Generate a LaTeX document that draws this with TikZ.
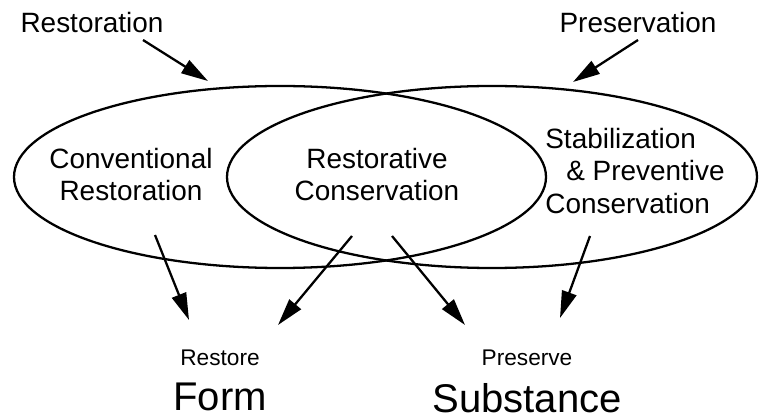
\documentclass[tikz,border=0pt]{standalone}
\usepackage{fontspec}
\setmainfont{Liberation Sans}
\usetikzlibrary{arrows.meta,positioning}
\tikzset{zone/.style={line width=1.3pt}}
\tikzset{lbl/.style={inner sep=0pt,font=\fontsize{15.9}{18.6}\selectfont,align=center}}
\tikzset{smalllbl/.style={inner sep=0pt,font=\fontsize{12.9}{15}\selectfont}}
\tikzset{biglbl/.style={inner sep=0pt,font=\fontsize{22.8}{27}\selectfont}}
\tikzset{arr/.style={line width=1.3pt,-{Triangle[length=0.54cm,width=0.3cm]}}}

\begin{document}
\begin{tikzpicture}[x=0.02cm,y=0.02cm]
\useasboundingbox (0,0) rectangle (759,419);

% the two overlapping fields
\draw[zone] (280,242) ellipse [x radius=266, y radius=91];
\draw[zone] (492,242) ellipse [x radius=265, y radius=91];

\node[lbl] (restlbl) at (92,396) {Restoration};
\node[lbl] (preslbl) at (638,396) {Preservation};

\node[lbl] (conv) at (131,244.5) {Conventional\\Restoration};
\node[lbl] (restcons) at (377,244.5) {Restorative\\Conservation};
\node[lbl,align=left,anchor=west] (stab) at (545,248) {Stabilization\\\hspace*{0.75em}\& Preventive\\Conservation};

\node[smalllbl] (restore) at (220,61.5) {Restore};
\node[biglbl, below=0.34cm of restore] (form) {Form};
\node[smalllbl] (preserve) at (527,61.5) {Preserve};
\node[biglbl, below=0.34cm of preserve] (subst) {Substance};

% arrow ends
\coordinate (restlbl-out) at (143,379);
\coordinate (restfield-in) at (208,338);
\coordinate (preslbl-out) at (638,379);
\coordinate (presfield-in) at (573,337);
\coordinate (conv-out) at (155,184);
\coordinate (restcons-outl) at (352,183);
\coordinate (restcons-outr) at (392,183);
\coordinate (stab-out) at (590,183);
\coordinate (form-inl) at (189,99);
\coordinate (form-inr) at (278,94);
\coordinate (subst-inl) at (465,94);
\coordinate (subst-inr) at (560,101);

\draw[arr] (restlbl-out) -- (restfield-in);
\draw[arr] (preslbl-out) -- (presfield-in);
\draw[arr] (conv-out) -- (form-inl);
\draw[arr] (restcons-outl) -- (form-inr);
\draw[arr] (restcons-outr) -- (subst-inl);
\draw[arr] (stab-out) -- (subst-inr);

\end{tikzpicture}
\end{document}
